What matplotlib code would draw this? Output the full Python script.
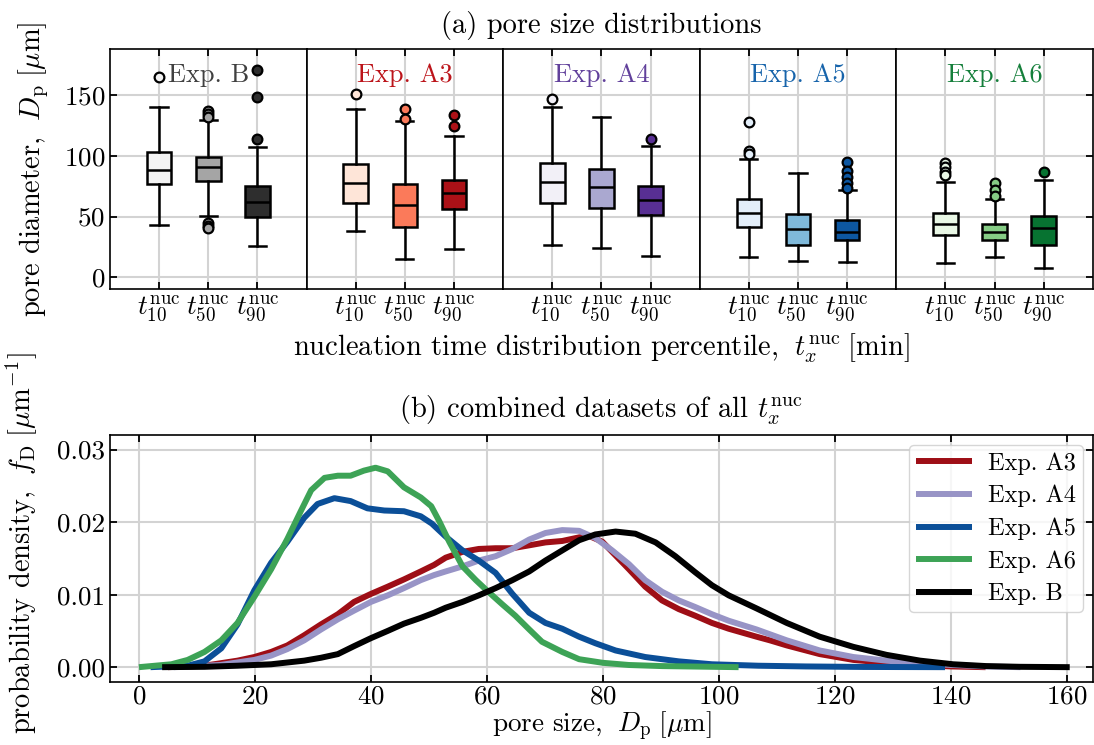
import matplotlib.pyplot as plt
import numpy as np

plt.rcParams.update({
    'font.family': 'serif',
    'font.serif': ['cmr10'],
    'mathtext.fontset': 'cm',
    'axes.formatter.use_mathtext': True,
    'font.size': 20,
    'axes.linewidth': 1.2,
})

# ---- (a) box statistics ----
experiments = ['Exp. B', 'Exp. A3', 'Exp. A4', 'Exp. A5', 'Exp. A6']
cmaps = ['Greys', 'Reds', 'Purples', 'Blues', 'Greens']
percentile_labels = [r'$t_{10}^\mathrm{nuc}$', r'$t_{50}^\mathrm{nuc}$', r'$t_{90}^\mathrm{nuc}$']

box_whislo = [[43, 50.6, 25.6], [38.5, 15.1, 23.6], [26.4, 23.9, 17.6], [16.5, 13.2, 12.6], [11.5, 16.5, 7.7]]
box_q1 = [[77, 79, 49.5], [61, 41.8, 56.4], [61.6, 57.4, 51.4], [41.8, 26.9, 30.5], [34.6, 30.5, 26.9]]
box_med = [[88.8, 90.5, 61.9], [77.5, 59.7, 69.6], [78.9, 74, 63.5], [53.3, 39.6, 37.1], [44.2, 37.1, 40.4]]
box_q3 = [[103, 99.5, 75.3], [93.5, 76.7, 80.5], [94.6, 89.4, 75.3], [64.3, 52.2, 47.3], [52.8, 44.2, 50.6]]
box_whishi = [[140, 130, 107.8], [138.9, 129, 116.8], [140.8, 132, 108.3], [97.3, 86, 72], [78.9, 64.3, 80]]
box_fliers = [
    [[165], [137, 135, 132.5, 45, 42.3, 40.4], [170.8, 149, 114]],
    [[151.2], [138.6, 130.9], [134.2, 124.6]],
    [[146.8], [], [113.8]],
    [[127.9, 104.2, 101.5], [], [95.4, 88, 83, 78, 73.4]],
    [[94, 90.7, 87.1, 84.4], [78, 72, 67], [86.9]],
]

# ---- (b) density curves ----
D_A3 = [5, 11.3, 17, 19.9, 22.8, 25.6, 28.5, 31.4, 34.3, 37.1, 40, 42.9, 45.7, 48.6, 50.9, 52.9, 55.8, 58.6, 61.5,
        64.4, 67.3, 70.1, 73, 75.9, 77.6, 79.9, 82.2, 84.5, 87.3, 90.2, 93.1, 95.9, 98.8, 101.7, 106.5, 108.8, 111.7,
        117.4, 123.2, 128.9, 134.7, 140, 146]
f_A3 = [0, 0.0002, 0.0009, 0.0014, 0.0021, 0.003, 0.0044, 0.0059, 0.0073, 0.009, 0.0101, 0.0111, 0.0121, 0.0132,
        0.0141, 0.0151, 0.0159, 0.0163, 0.0164, 0.0164, 0.0168, 0.0172, 0.0174, 0.0179, 0.0181, 0.0173, 0.0154,
        0.0135, 0.0111, 0.0092, 0.008, 0.0071, 0.0061, 0.0053, 0.0042, 0.0037, 0.003, 0.0018, 0.001, 0.0006,
        0.0003, 0.0001, 0]
D_A4 = [6, 14, 19.9, 22.8, 25.6, 28.5, 31.4, 34.3, 37.1, 40, 42.9, 45.7, 48.6, 50.9, 52.9, 55.8, 58.6, 61.5, 64.4,
        67.3, 70.1, 73, 75.9, 78.7, 81.6, 84.5, 87.3, 90.2, 93.1, 95.9, 98.8, 101.7, 106.5, 111.7, 117.4, 123.2,
        128.9, 134.7, 140.4, 146, 152]
f_A4 = [0, 0.0003, 0.001, 0.0016, 0.0025, 0.0037, 0.0052, 0.0066, 0.0078, 0.009, 0.0099, 0.0109, 0.012, 0.0127,
        0.0132, 0.0139, 0.0147, 0.0153, 0.0163, 0.0176, 0.0185, 0.0189, 0.0188, 0.0178, 0.0161, 0.0142, 0.012,
        0.0104, 0.0092, 0.0083, 0.0073, 0.0064, 0.0052, 0.0037, 0.0023, 0.0014, 0.0009, 0.0005, 0.0003, 0.0001, 0]
D_A5 = [2, 8.4, 11.3, 14.2, 17, 19.9, 22.8, 25.6, 28.5, 30.8, 33.7, 36.5, 39.4, 42.3, 45.7, 48.6, 50.5, 52.9, 55.8,
        58.6, 61.5, 64.4, 67.3, 70.1, 73, 75.9, 78.7, 82.2, 87.3, 93.1, 98.8, 106.8, 115, 125, 139]
f_A5 = [0, 0.0002, 0.0008, 0.0026, 0.0059, 0.0106, 0.0144, 0.0173, 0.0206, 0.0225, 0.0233, 0.0229, 0.0219, 0.0216,
        0.0215, 0.0208, 0.0198, 0.018, 0.0161, 0.0147, 0.013, 0.0101, 0.0075, 0.0061, 0.0053, 0.0042, 0.0033,
        0.0023, 0.0014, 0.0008, 0.0004, 0.0002, 0.0001, 0.00003, 0]
D_A6 = [0, 5.6, 8.4, 11.3, 14.2, 17, 19.9, 22.8, 25.6, 27.9, 29.7, 32, 34.3, 36.5, 38.8, 40.8, 42.9, 45.7, 48.6,
        50.4, 51.8, 53.5, 55.8, 58.1, 60.1, 62.6, 64.9, 67.3, 69.5, 73, 75.9, 80, 84.5, 90.2, 103.4]
f_A6 = [0, 0.0004, 0.001, 0.0021, 0.0037, 0.0061, 0.0097, 0.0135, 0.0177, 0.0215, 0.0244, 0.0261, 0.0264, 0.0264,
        0.0271, 0.0275, 0.027, 0.0248, 0.0234, 0.0222, 0.0201, 0.0173, 0.0139, 0.012, 0.0105, 0.0087, 0.0071,
        0.0052, 0.0035, 0.0021, 0.0011, 0.0006, 0.0003, 0.00015, 0]
D_B = [4, 11.3, 17, 22.8, 28.5, 31.4, 34.3, 37.1, 40, 42.9, 45.7, 48.6, 50.9, 52.9, 55.8, 58.6, 61.5, 64.4, 67.3,
       70.1, 73, 75.9, 78.7, 82.2, 85.6, 89.1, 92.5, 95.9, 98.8, 101.7, 106.5, 111.7, 117.4, 123.2, 128.9, 134.7,
       140.4, 146.1, 151.9, 160.5]
f_B = [0, 0.00005, 0.0002, 0.0004, 0.0009, 0.0013, 0.0018, 0.0029, 0.004, 0.005, 0.006, 0.0068, 0.0075, 0.0082,
       0.009, 0.0099, 0.0109, 0.012, 0.0132, 0.0147, 0.0161, 0.0175, 0.0183, 0.0187, 0.0184, 0.0172, 0.0153,
       0.0131, 0.0113, 0.0099, 0.0081, 0.0061, 0.0042, 0.0028, 0.0017, 0.0009, 0.0004, 0.00015, 0.00005, 0]

curves = [(D_A3, f_A3, '#9e0e16', 'Exp. A3'), (D_A4, f_A4, '#9894c6', 'Exp. A4'),
          (D_A5, f_A5, '#0b4f98', 'Exp. A5'), (D_A6, f_A6, '#3da356', 'Exp. A6'),
          (D_B, f_B, 'black', 'Exp. B')]

grid_kw = dict(color='#d3d3d3', linewidth=1.5)
tick_kw = dict(direction='in', length=5, width=1.3, labelsize=19.5)

fig = plt.figure(figsize=(10.94, 7.45), dpi=100)

left, right = 0.1005, 0.999
w = (right - left) / 5
axes_top = [fig.add_axes([left + i * w, 0.6117, w, 0.3221]) for i in range(5)]

for i, ax in enumerate(axes_top):
    cmap = plt.get_cmap(cmaps[i])
    shades = cmap([0.1, 0.45, 0.85])
    stats = []
    for j in range(3):
        stats.append(dict(whislo=box_whislo[i][j], q1=box_q1[i][j], med=box_med[i][j],
                          q3=box_q3[i][j], whishi=box_whishi[i][j], fliers=box_fliers[i][j]))
    bp = ax.bxp(stats, positions=[1, 2, 3], widths=0.5, capwidths=0.35, patch_artist=True,
                boxprops=dict(linewidth=1.8, edgecolor='black'),
                whiskerprops=dict(linewidth=1.8, color='black'),
                capprops=dict(linewidth=1.8, color='black'),
                medianprops=dict(linewidth=1.8, color='black'),
                flierprops=dict(marker='o', markersize=7, markeredgecolor='black', markeredgewidth=1.6))
    for j in range(3):
        bp['boxes'][j].set_facecolor(shades[j])
        bp['fliers'][j].set_markerfacecolor(shades[j])
    ax.set_xlim(0, 4)
    ax.set_ylim(-10, 188)
    ax.set_xticks([1, 2, 3])
    ax.set_xticklabels(percentile_labels)
    ax.set_yticks([0, 50, 100, 150])
    ax.grid(True, **grid_kw)
    ax.set_axisbelow(True)
    ax.tick_params(axis='x', top=True, **tick_kw)
    ax.tick_params(axis='y', left=(i == 0), right=(i == 4), labelleft=(i == 0), **tick_kw)
    ax.text(2, 167, experiments[i], ha='center', va='center', color=cmap(0.8), fontsize=19)

axes_top[0].set_ylabel(r'pore diameter, $\;D_\mathrm{p}\;[\mu\mathrm{m}]$', fontsize=20.5, labelpad=9)

fig.text((left + right) / 2, 1 - 25 / 745, '(a) pore size distributions', ha='center', va='center',
         fontsize=20.5)
fig.text((left + right) / 2, 1 - 348 / 745,
         r'nucleation time distribution percentile, $\;t_x^\mathrm{nuc}\;$[min]',
         ha='center', va='center', fontsize=20.5)

# ---- (b) ----
ax2 = fig.add_axes([left, 0.085, right - left, 0.331])
for D, f, c, lab in curves:
    ax2.plot(D, f, color=c, linewidth=4.3, label=lab, solid_capstyle='butt')
ax2.set_xlim(-5, 164.5)
ax2.set_ylim(-0.002, 0.032)
ax2.set_xticks(np.arange(0, 161, 20))
ax2.set_yticks([0, 0.01, 0.02, 0.03])
ax2.set_yticklabels(['0.00', '0.01', '0.02', '0.03'])
ax2.grid(True, **grid_kw)
ax2.set_axisbelow(True)
ax2.tick_params(axis='both', top=True, right=True, **tick_kw)
ax2.tick_params(axis='x', pad=2.5)
fig.text((left + right) / 2, 0.003, r'pore size, $\;D_\mathrm{p}\;[\mu\mathrm{m}]$', ha='center', va='bottom',
         fontsize=19.5)
ax2.set_ylabel(r'probability density, $\;f_\mathrm{D}\;[\mu\mathrm{m}^{-1}]$', fontsize=20.5)
ax2.yaxis.set_label_coords(-0.071, 0.56)
fig.text((left + right) / 2, 1 - 410 / 745, r'(b) combined datasets of all $t_x^\mathrm{nuc}$',
         ha='center', va='center', fontsize=20.5)
ax2.legend(loc='upper right', fontsize=17.5, labelspacing=0.42, handlelength=2.3, handletextpad=0.66,
           borderpad=0.3, borderaxespad=0.4)

fig.savefig('out.png', dpi=100, facecolor='white')
